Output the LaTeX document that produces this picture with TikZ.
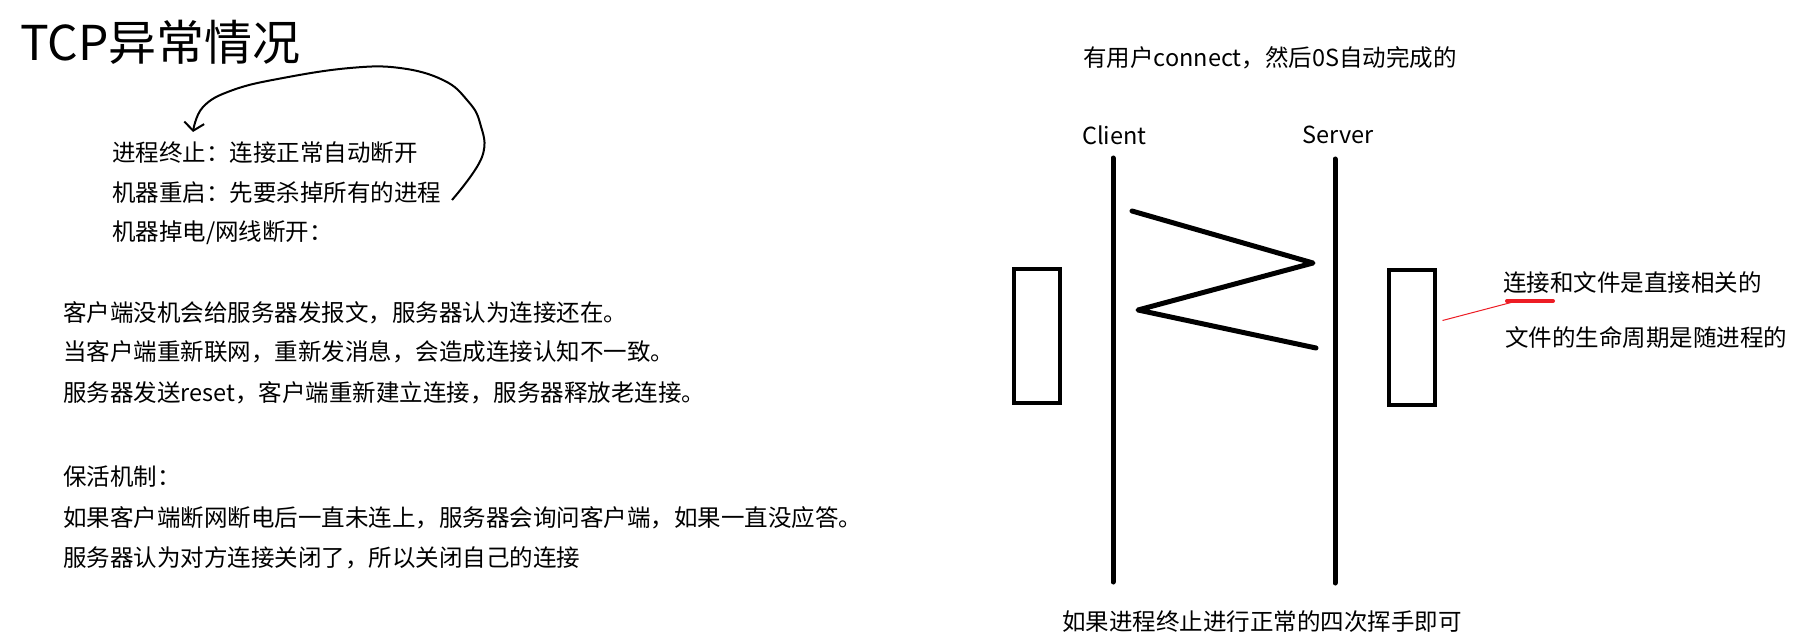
\documentclass[tikz,border=0pt]{standalone}
\usepackage{fontspec}
\setmainfont{Noto Sans CJK SC}
\usetikzlibrary{arrows.meta,positioning}
\definecolor{ink}{HTML}{000000}
\definecolor{redpen}{HTML}{ED1C24}
\tikzset{txt/.style={anchor=west,inner sep=0pt,font=\fontsize{23.5}{28}\selectfont},
  life/.style={ink,line width=5pt,line cap=round},
  proc/.style={draw=ink,line width=4pt,minimum width=46pt,minimum height=134pt,inner sep=0pt},
  pen/.style={ink,line width=2pt,line join=round}}
\begin{document}
\begin{tikzpicture}[x=1pt,y=-1pt]
\useasboundingbox[fill=white] (0,0) rectangle (1805,639);
\node[txt,font=\fontsize{48}{56}\selectfont] (title) at (20,42) {TCP异常情况};
% left notes
\node[txt] (kill) at (112,153) {进程终止：连接正常自动断开};
\node[txt] (reboot) at (112,193) {机器重启：先要杀掉所有的进程};
\node[txt] (power) at (112,233) {机器掉电/网线断开：};
\node[txt] (p1) at (63,313) {客户端没机会给服务器发报文，服务器认为连接还在。};
\node[txt] (p2) at (63,352) {当客户端重新联网，重新发消息，会造成连接认知不一致。};
\node[txt] (p3) at (63,393) {服务器发送reset，客户端重新建立连接，服务器释放老连接。};
\node[txt] (keep) at (63,477) {保活机制：};
\node[txt] (k1) at (63,518) {如果客户端断网断电后一直未连上，服务器会询问客户端，如果一直没应答。};
\node[txt] (k2) at (63,558) {服务器认为对方连接关闭了，所以关闭自己的连接};
\draw[pen,-{Straight Barb[length=8pt,width=20pt]}] plot[smooth,tension=.7] coordinates {(452,200) (482,157) (480,123) (467,100) (443,80) (400,68) (350,68) (283,78) (233,90) (203,107) (193,132)};
% handshake sketch
\node[txt] (os) at (1083,58) {有用户connect，然后0S自动完成的};
\node[txt] (client) at (1082,135) {Client};
\node[txt] (server) at (1302,135) {Server};
\draw[life] (1113,158)--(1113,582);\draw[life] (1335,159)--(1335,583);
\draw[life,line join=round] (1132,211)--(1313,263)--(1138,310)--(1316,348);
\node[proc] (clibox) at (1037,336) {};\node[proc] (srvbox) at (1411.5,337.5) {};
\node[txt] (file1) at (1503,283) {连接和文件是直接相关的};
\node[txt] (file2) at (1505,337) {文件的生命周期是随进程的};
\coordinate (ulA) at (1507,301);\coordinate (ulB) at (1553,301);
\draw[redpen,line width=4pt,line cap=round] (ulA)--(ulB);
\draw[redpen,line width=1pt] ([xshift=6pt,yshift=17pt]srvbox.east)--([xshift=6pt,yshift=-1pt]ulA);
\node[txt] (wave) at (1062,622) {如果进程终止进行正常的四次挥手即可};
\end{tikzpicture}
\end{document}
